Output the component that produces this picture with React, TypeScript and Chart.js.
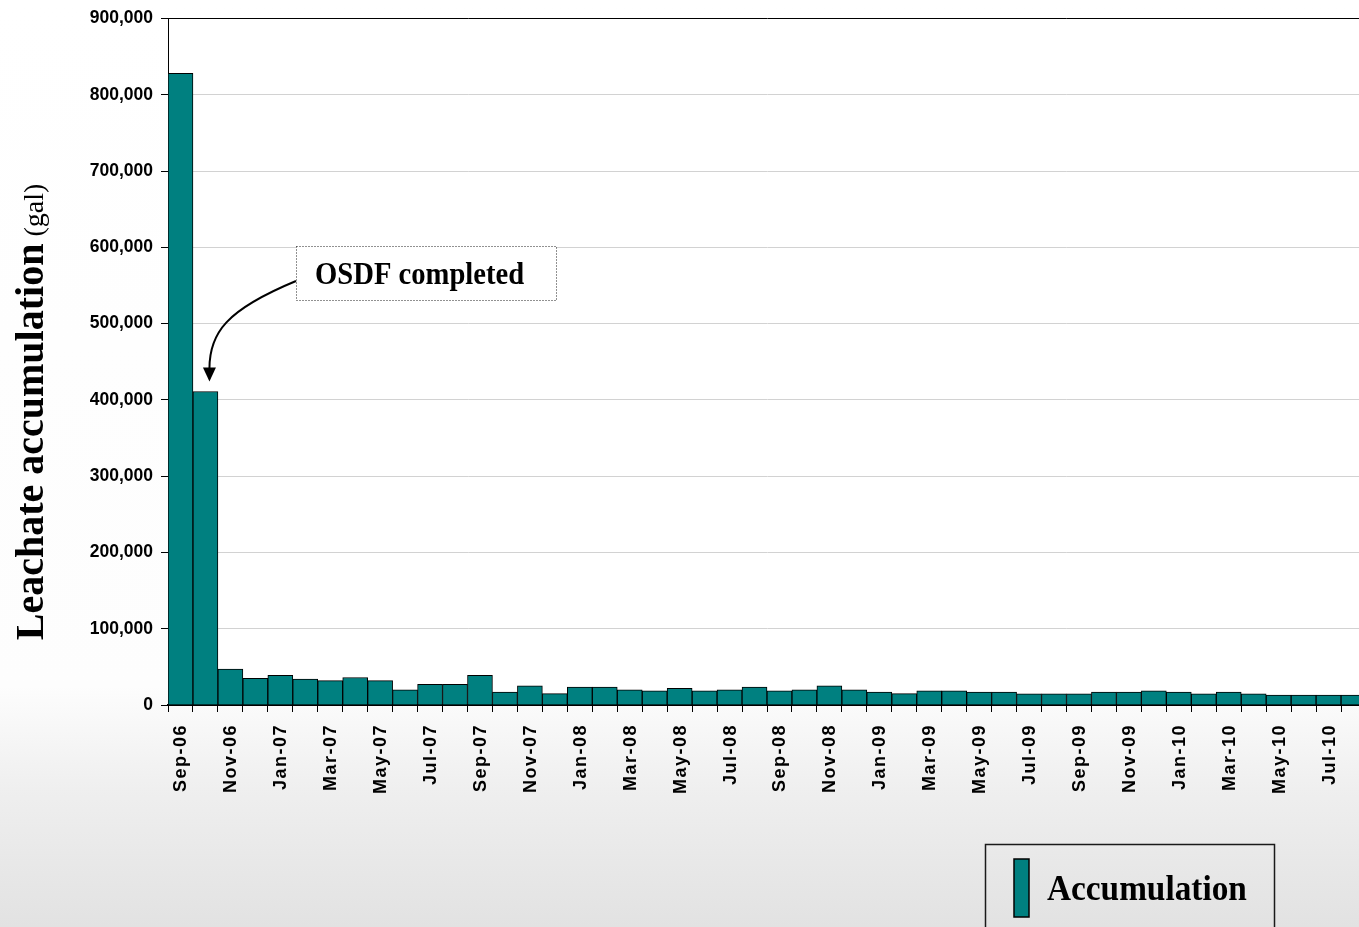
import React, { useEffect, useRef } from "react";
import { Chart, registerables } from "chart.js";

Chart.register(...registerables);

const months: string[] = [
  "Sep-06", "Oct-06", "Nov-06", "Dec-06",
  "Jan-07", "Feb-07", "Mar-07", "Apr-07", "May-07", "Jun-07", "Jul-07", "Aug-07", "Sep-07", "Oct-07", "Nov-07", "Dec-07",
  "Jan-08", "Feb-08", "Mar-08", "Apr-08", "May-08", "Jun-08", "Jul-08", "Aug-08", "Sep-08", "Oct-08", "Nov-08", "Dec-08",
  "Jan-09", "Feb-09", "Mar-09", "Apr-09", "May-09", "Jun-09", "Jul-09", "Aug-09", "Sep-09", "Oct-09", "Nov-09", "Dec-09",
  "Jan-10", "Feb-10", "Mar-10", "Apr-10", "May-10", "Jun-10", "Jul-10", "Aug-10",
];

const accumulation: number[] = [
  828000, 411000, 47000, 35000,
  39000, 34000, 32000, 36000, 32000, 20000, 27000, 27000, 39000, 17000, 25000, 15000,
  23500, 23500, 20000, 18700, 21800, 18700, 20000, 23500, 18700, 20000, 25000, 20000,
  17000, 15000, 18700, 18700, 17000, 17000, 14800, 14800, 14800, 17000, 17000, 18700,
  17000, 14800, 17000, 14800, 13000, 13000, 13000, 13000,
];

const seriesName = "Accumulation";
const yTitleMain = "Leachate accumulation";
const yTitleUnit = " (gal)";
const annotationText = "OSDF completed";
const annotationIndex = 1;
const yMax = 900000;
const yStep = 100000;

const TEAL = "#008080";
const SANS = '"Liberation Sans", Arial, sans-serif';
const SERIF = '"Liberation Serif", "Times New Roman", serif';

const CANVAS_W = 1366;
const CANVAS_H = 927;

const decorPlugin = {
  id: "decor",
  beforeDraw(chart: any) {
    const { ctx, width, height, chartArea } = chart;
    ctx.save();
    const g = ctx.createLinearGradient(0, 0, 0, height);
    g.addColorStop(0, "#ffffff");
    g.addColorStop(0.74, "#fdfdfd");
    g.addColorStop(0.85, "#efefef");
    g.addColorStop(1, "#e2e2e2");
    ctx.fillStyle = g;
    ctx.fillRect(0, 0, width, height);
    ctx.fillStyle = "#ffffff";
    ctx.fillRect(chartArea.left, chartArea.top, chartArea.right - chartArea.left, chartArea.bottom - chartArea.top);
    ctx.restore();
  },
  afterDraw(chart: any) {
    const { ctx, chartArea } = chart;
    const xs = chart.scales.x;
    const ys = chart.scales.y;

    // x tick labels (every other month), rotated, letter-spaced
    ctx.save();
    ctx.font = `bold 18px ${SANS}`;
    ctx.fillStyle = "#000";
    (ctx as any).letterSpacing = "1.5px";
    ctx.textAlign = "right";
    ctx.textBaseline = "middle";
    months.forEach((m, i) => {
      if (i % 2 !== 0) return;
      const x = xs.getPixelForValue(i);
      ctx.save();
      ctx.translate(x + 1, chartArea.bottom + 19);
      ctx.rotate(-Math.PI / 2);
      ctx.fillText(m, 0, 0);
      ctx.restore();
    });
    ctx.restore();

    // y axis title (mixed fonts)
    ctx.save();
    ctx.translate(43, 412);
    ctx.rotate(-Math.PI / 2);
    ctx.fillStyle = "#000";
    ctx.textBaseline = "alphabetic";
    ctx.font = `bold 40px ${SERIF}`;
    const w1 = ctx.measureText(yTitleMain).width;
    ctx.font = `28px ${SERIF}`;
    const w2 = ctx.measureText(yTitleUnit).width;
    const start = -(w1 + w2) / 2;
    ctx.font = `bold 40px ${SERIF}`;
    ctx.fillText(yTitleMain, start, 0);
    ctx.font = `28px ${SERIF}`;
    ctx.fillText(yTitleUnit, start + w1, 0);
    ctx.restore();

    // annotation box
    ctx.save();
    const bx = 296, by = 246, bw = 260, bh = 54;
    ctx.fillStyle = "#ffffff";
    ctx.fillRect(bx, by, bw, bh);
    ctx.strokeStyle = "#222";
    ctx.lineWidth = 1;
    ctx.setLineDash([1, 2]);
    ctx.strokeRect(bx + 0.5, by + 0.5, bw, bh);
    ctx.setLineDash([]);
    ctx.fillStyle = "#000";
    ctx.font = `bold 32px ${SERIF}`;
    ctx.textBaseline = "alphabetic";
    ctx.save();
    ctx.translate(315, 284);
    ctx.scale(0.895, 1);
    ctx.fillText(annotationText, 0, 0);
    ctx.restore();

    // arrow to the Oct-06 bar
    const tipX = xs.getPixelForValue(annotationIndex) + 4;
    const tipY = ys.getPixelForValue(accumulation[annotationIndex]) - 10;
    const baseY = tipY - 14;
    ctx.strokeStyle = "#000";
    ctx.lineWidth = 2;
    ctx.beginPath();
    ctx.moveTo(bx, 281);
    ctx.bezierCurveTo(226, 310, tipX, 333, tipX, baseY + 1);
    ctx.stroke();
    ctx.fillStyle = "#000";
    ctx.beginPath();
    ctx.moveTo(tipX - 6.5, baseY);
    ctx.lineTo(tipX + 6.5, baseY);
    ctx.lineTo(tipX, tipY);
    ctx.closePath();
    ctx.fill();
    ctx.restore();

    // legend
    ctx.save();
    ctx.strokeStyle = "#1a1a1a";
    ctx.lineWidth = 1.5;
    ctx.strokeRect(985.5, 844.5, 289, 120);
    ctx.fillStyle = TEAL;
    ctx.fillRect(1014, 859, 15, 58);
    ctx.strokeStyle = "#000";
    ctx.lineWidth = 1.5;
    ctx.strokeRect(1014, 859, 15, 58);
    ctx.fillStyle = "#000";
    ctx.font = `bold 36px ${SERIF}`;
    ctx.translate(1047, 900);
    ctx.scale(0.925, 1);
    ctx.fillText(seriesName, 0, 0);
    ctx.restore();
  },
};

export default function App() {
  const canvasRef = useRef<HTMLCanvasElement | null>(null);

  useEffect(() => {
    if (!canvasRef.current) return;
    const chart = new Chart(canvasRef.current, {
      type: "bar",
      data: {
        labels: months,
        datasets: [
          {
            label: seriesName,
            data: accumulation,
            backgroundColor: TEAL,
            borderColor: "#000",
            borderWidth: 1,
            barPercentage: 1,
            categoryPercentage: 1,
          },
        ],
      },
      options: {
        responsive: false,
        animation: false,
        layout: { padding: { top: 17, left: 0, right: 0, bottom: 0 } },
        plugins: {
          legend: { display: false },
          tooltip: { enabled: false },
          title: { display: false },
        },
        scales: {
          x: {
            type: "category",
            offset: true,
            grid: {
              display: true,
              offset: true,
              drawOnChartArea: false,
              drawTicks: true,
              tickLength: 7,
              color: "#000",
              lineWidth: 1,
            },
            border: { display: true, color: "#000", width: 2 },
            ticks: { display: false, autoSkip: false },
            afterFit: (s: any) => {
              s.height = 222;
            },
          },
          y: {
            min: 0,
            max: yMax,
            grid: {
              color: (c: any) => (c.tick && c.tick.value === yMax ? "#000" : "#d2d2d2"),
              tickColor: "#000",
              tickLength: 7,
              lineWidth: 1,
            },
            border: { display: true, color: "#000", width: 1 },
            ticks: {
              stepSize: yStep,
              color: "#000",
              padding: 8,
              font: { family: SANS, size: 17.5, weight: "bold" },
              callback: (v: any) => Number(v).toLocaleString("en-US"),
            },
            afterFit: (s: any) => {
              s.width = 168;
            },
          },
        },
      },
      plugins: [decorPlugin],
    });
    return () => chart.destroy();
  }, []);

  return (
    <div style={{ position: "absolute", left: 0, top: 0, width: 1359, height: 927, overflow: "hidden" }}>
      <canvas ref={canvasRef} width={CANVAS_W} height={CANVAS_H} style={{ display: "block" }} />
    </div>
  );
}
